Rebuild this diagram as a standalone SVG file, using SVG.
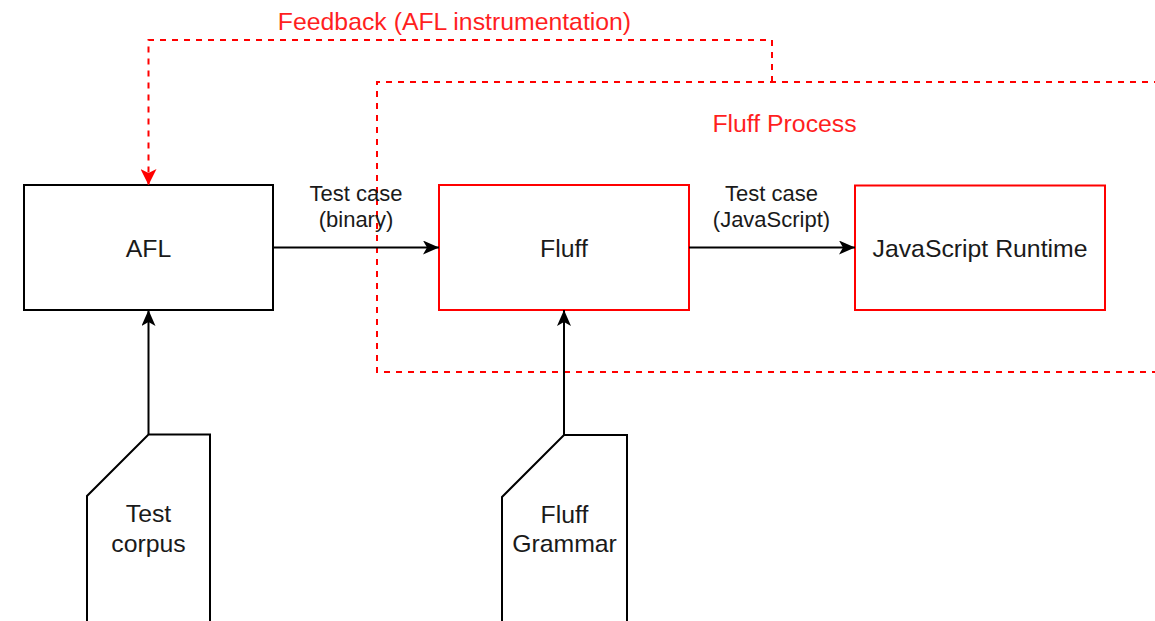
<svg xmlns="http://www.w3.org/2000/svg" width="1155" height="621" viewBox="0 0 1155 621">
<defs>
<style>
.txt{font-family:"Liberation Sans",Arial,sans-serif;fill:#1a1a1a;text-anchor:middle}
.node{font-size:24.8px}
.elabel{font-size:22px}
.red{fill:#ff1f1f}
.box{fill:#fff;stroke:#000;stroke-width:2}
.rbox{fill:#fff;stroke:#ff0000;stroke-width:2}
.dash{fill:none;stroke:#ff0000;stroke-width:2;stroke-dasharray:6 6}
.edge{fill:none;stroke:#000;stroke-width:2}
</style>
<marker id="arr" viewBox="0 0 16 14" refX="16" refY="7" markerWidth="16" markerHeight="14" markerUnits="userSpaceOnUse" orient="auto">
<path d="M0,0 L16,7 L0,14 L4,7 Z" fill="#000"/>
</marker>
<marker id="arrRed" viewBox="0 0 16 16" refX="16" refY="8" markerWidth="16" markerHeight="16" markerUnits="userSpaceOnUse" orient="auto">
<path d="M0,0 L16,8 L0,16 L4,8 Z" fill="#ff0000"/>
</marker>
</defs>
<rect width="1155" height="621" fill="#fff"/>
<g id="fluff-process">
<path class="dash" d="M1160,82 L377,82 L377,372 L1160,372"/>
<text class="txt node red" x="784.5" y="132">Fluff Process</text>
</g>
<g id="afl">
<rect class="box" x="24" y="185" width="249" height="125"/>
<text class="txt node" x="148.5" y="257">AFL</text>
</g>
<g id="fluff">
<rect class="rbox" x="439" y="185" width="250" height="125"/>
<text class="txt node" x="564" y="257">Fluff</text>
</g>
<g id="js-runtime">
<rect class="rbox" x="855" y="185.5" width="250" height="124.5"/>
<text class="txt node" x="980" y="257">JavaScript Runtime</text>
</g>
<g id="test-corpus">
<path class="box" d="M148.5,434.5 L210,434.5 L210,630 L87,630 L87,496 Z"/>
<text class="txt node" x="148.5" y="522">Test</text>
<text class="txt node" x="148.5" y="551.5">corpus</text>
</g>
<g id="fluff-grammar">
<path class="box" d="M564,435 L627,435 L627,630 L502,630 L502,497 Z"/>
<text class="txt node" x="564.5" y="522.5">Fluff</text>
<text class="txt node" x="564.5" y="551.5">Grammar</text>
</g>
<g id="connectors">
<path class="edge" d="M273,247.5 L439,247.5" marker-end="url(#arr)"/>
<text class="txt elabel" x="356" y="201">Test case</text>
<text class="txt elabel" x="356" y="227">(binary)</text>
<path class="edge" d="M689,247.5 L855,247.5" marker-end="url(#arr)"/>
<text class="txt elabel" x="771.5" y="201">Test case</text>
<text class="txt elabel" x="771.5" y="227">(JavaScript)</text>
<path class="edge" d="M148.5,434.5 L148.5,310" marker-end="url(#arr)"/>
<path class="edge" d="M564,435 L564,310" marker-end="url(#arr)"/>
<path class="dash" d="M772,82 L772,40 L148.5,40 L148.5,185" marker-end="url(#arrRed)"/>
<text class="txt node red" x="454.5" y="30">Feedback (AFL instrumentation)</text>
</g>
</svg>
